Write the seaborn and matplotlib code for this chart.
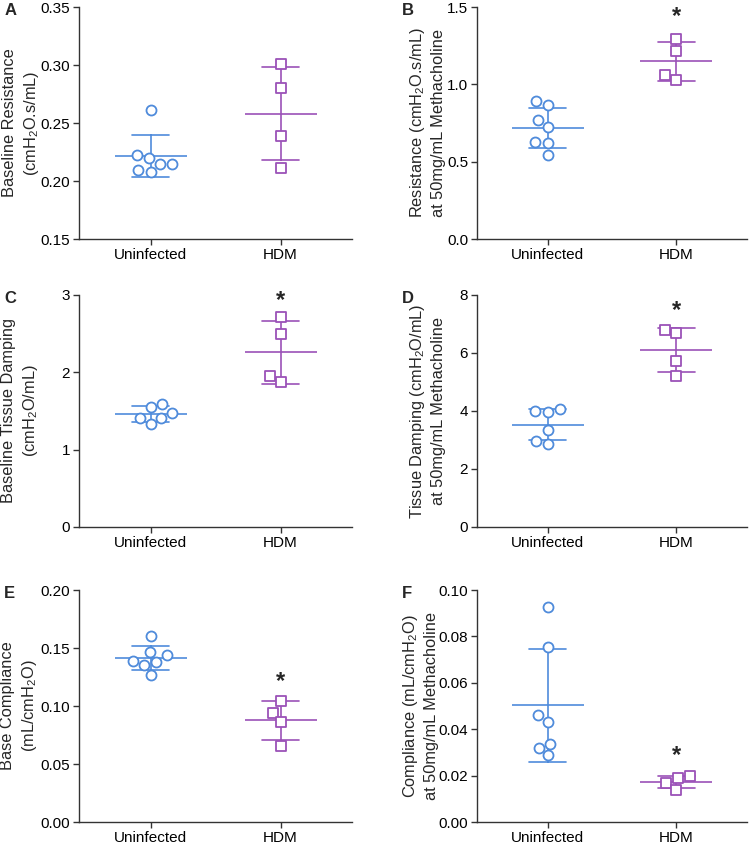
import numpy as np
import pandas as pd
import seaborn as sns
import matplotlib.pyplot as plt
from matplotlib.ticker import MultipleLocator, FormatStrFormatter

groups = ["Uninfected", "HDM"]
blue = "#4F8BDB"
purple = "#9B52B8"

# values, one list per panel and group
a_uninf = [0.2196, 0.2145, 0.2225, 0.2079, 0.2096, 0.2150, 0.2612]
a_hdm = [0.3013, 0.2804, 0.2391, 0.2116]
b_uninf = [0.864, 0.892, 0.769, 0.722, 0.630, 0.623, 0.546]
b_hdm = [1.294, 1.216, 1.059, 1.025]
c_uninf = [1.594, 1.551, 1.474, 1.414, 1.405, 1.328]
c_hdm = [2.709, 2.494, 1.946, 1.881]
d_uninf = [3.989, 3.966, 4.057, 3.349, 2.857, 2.971]
d_hdm = [6.674, 6.800, 5.714, 5.211]
e_uninf = [0.1603, 0.1469, 0.1440, 0.1383, 0.1389, 0.1357, 0.1269]
e_hdm = [0.1046, 0.0943, 0.0866, 0.0654]
f_uninf = [0.0929, 0.0756, 0.0461, 0.0430, 0.0337, 0.0321, 0.0287]
f_hdm = [0.0189, 0.0199, 0.0170, 0.0140]

letters = ["A", "B", "C", "D", "E", "F"]
ylabels = [
    "Baseline Resistance\n(cmH$_2$O.s/mL)",
    "Resistance (cmH$_2$O.s/mL)\nat 50mg/mL Methacholine",
    "Baseline Tissue Damping\n(cmH$_2$O/mL)",
    "Tissue Damping (cmH$_2$O/mL)\nat 50mg/mL Methacholine",
    "Base Compliance\n(mL/cmH$_2$O)",
    "Compliance (mL/cmH$_2$O)\nat 50mg/mL Methacholine",
]
ylims = [(0.15, 0.35), (0, 1.5), (0, 3), (0, 8), (0, 0.20), (0, 0.10)]
ysteps = [0.05, 0.5, 1, 2, 0.05, 0.02]
yfmts = ["%.2f", "%.1f", "%.0f", "%.0f", "%.2f", "%.2f"]
star_y = [None, 1.44, 2.93, 7.45, 0.121, 0.0285]
# horizontal spot of each y label, in axes fraction
label_x = [-0.138, -0.116, -0.142, -0.116, -0.147, -0.140]

panels = [(a_uninf, a_hdm), (b_uninf, b_hdm), (c_uninf, c_hdm),
          (d_uninf, d_hdm), (e_uninf, e_hdm), (f_uninf, f_hdm)]

sns.set_style("ticks")
plt.rcParams["font.family"] = ["Liberation Sans", "DejaVu Sans"]
plt.rcParams["mathtext.default"] = "regular"

fig = plt.figure(figsize=(7.49, 8.44), dpi=100)

lefts = [0.1055, 0.637]
bottoms = [0.7168, 0.3756, 0.026]
w = [0.3645, 0.36]
h = 0.2749

for i, (uninf, hdm) in enumerate(panels):
    row, col = divmod(i, 2)
    ax = fig.add_axes([lefts[col], bottoms[row], w[col], h])
    df = pd.DataFrame({
        "group": ["Uninfected"] * len(uninf) + ["HDM"] * len(hdm),
        "value": uninf + hdm,
    })

    # mean +/- SD
    sns.pointplot(data=df, x="group", y="value", hue="group", order=groups,
                  palette=[blue, purple], errorbar="sd", capsize=0.29,
                  linestyle="none", marker="_", markersize=52,
                  markeredgewidth=1.2, err_kws={"linewidth": 1.2},
                  legend=False, ax=ax)

    n0 = len(ax.collections)
    sns.swarmplot(x=["Uninfected"] * len(uninf), y=uninf, order=groups,
                  color=blue, marker="o", size=7.2, linewidth=1.3, ax=ax)
    sns.swarmplot(x=["HDM"] * len(hdm), y=hdm, order=groups,
                  color=purple, marker="s", size=7.0, linewidth=1.3, ax=ax)
    # hollow markers, colour picked by which group the points sit on
    for coll in ax.collections[n0:]:
        offs = coll.get_offsets()
        if len(offs) == 0:
            continue
        c = blue if np.mean(offs[:, 0]) < 0.5 else purple
        coll.set_facecolor("white")
        coll.set_edgecolor(c)
        coll.set_zorder(5)

    ax.set_xlim(-0.55, 1.55)
    ax.set_ylim(*ylims[i])
    ax.yaxis.set_major_locator(MultipleLocator(ysteps[i]))
    ax.yaxis.set_major_formatter(FormatStrFormatter(yfmts[i]))
    ax.set_xlabel("")
    ax.set_ylabel(ylabels[i], fontsize=11.8, linespacing=1.35)
    ax.yaxis.set_label_coords(label_x[i], 0.5)
    ax.tick_params(axis="both", labelsize=11, length=4, width=1, pad=2.5,
                   color="#333333", labelcolor="black")
    for s in ["left", "bottom"]:
        ax.spines[s].set_color("#333333")
        ax.spines[s].set_linewidth(1)
    sns.despine(ax=ax)

    if star_y[i] is not None:
        ax.text(1, star_y[i], "*", ha="center", va="center",
                fontsize=17, fontweight="bold")

    fig.text(lefts[col] - 0.1, bottoms[row] + h - 0.004, letters[i],
             fontsize=12, fontweight="bold", ha="left", va="center")

fig.savefig("out.png", dpi=100)
